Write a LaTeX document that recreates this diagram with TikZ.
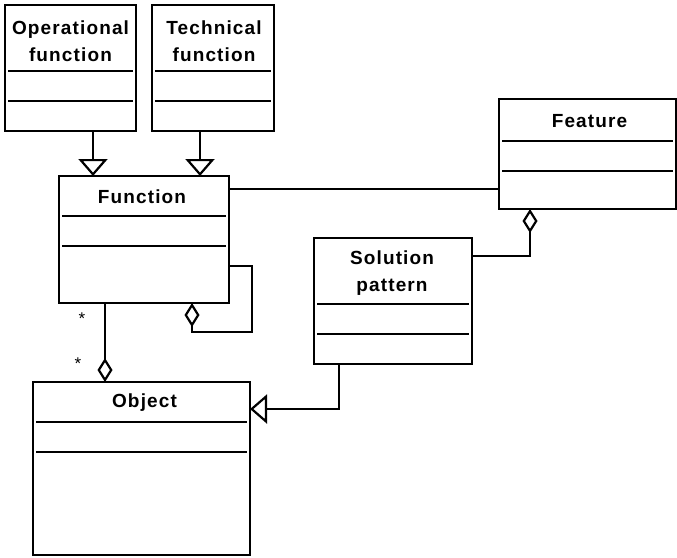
\documentclass[tikz,border=0pt]{standalone}
\usepackage{fontspec}
\setmainfont{Liberation Sans}[LetterSpace=6]
\usetikzlibrary{arrows.meta,calc}
\tikzset{
  umlbox/.style={draw, rectangle, line width=2.6pt, inner sep=0pt, outer sep=0pt, anchor=north west},
  title/.style={font=\fontsize{19}{27}\selectfont\bfseries, align=center, inner sep=0pt},
  sepline/.style={line width=2pt},
  conn/.style={line width=2.4pt},
  inh/.style={conn, -{Triangle[open, length=17pt, width=29pt, line width=2.2pt]}},
  agg/.style={conn, -{Diamond[open, length=24pt, width=15pt, line width=2.2pt]}},
  mult/.style={font=\fontsize{17}{17}\selectfont, inner sep=0pt}
}
\begin{document}
\begin{tikzpicture}[x=1pt, y=-1pt]
\useasboundingbox (0,0) rectangle (677,557);
% boxes
\node[umlbox, minimum width=131pt, minimum height=126pt] (op) at (5,5) {};
\node[umlbox, minimum width=122pt, minimum height=126pt] (te) at (152,5) {};
\node[umlbox, minimum width=170pt, minimum height=127pt] (fn) at (59,176) {};
\node[umlbox, minimum width=177pt, minimum height=110pt] (fe) at (499,99) {};
\node[umlbox, minimum width=158pt, minimum height=126pt] (sp) at (314,238) {};
\node[umlbox, minimum width=217pt, minimum height=173pt] (ob) at (33,382) {};
% compartment lines
\draw[sepline] ($(op.north west)+(3,66)$) -- ($(op.north east)+(-3,66)$);
\draw[sepline] ($(op.north west)+(3,96)$) -- ($(op.north east)+(-3,96)$);
\draw[sepline] ($(te.north west)+(3,66)$) -- ($(te.north east)+(-3,66)$);
\draw[sepline] ($(te.north west)+(3,96)$) -- ($(te.north east)+(-3,96)$);
\draw[sepline] ($(fn.north west)+(3,40)$) -- ($(fn.north east)+(-3,40)$);
\draw[sepline] ($(fn.north west)+(3,70)$) -- ($(fn.north east)+(-3,70)$);
\draw[sepline] ($(fe.north west)+(3,42)$) -- ($(fe.north east)+(-3,42)$);
\draw[sepline] ($(fe.north west)+(3,72)$) -- ($(fe.north east)+(-3,72)$);
\draw[sepline] ($(sp.north west)+(3,66)$) -- ($(sp.north east)+(-3,66)$);
\draw[sepline] ($(sp.north west)+(3,96)$) -- ($(sp.north east)+(-3,96)$);
\draw[sepline] ($(ob.north west)+(3,40)$) -- ($(ob.north east)+(-3,40)$);
\draw[sepline] ($(ob.north west)+(3,70)$) -- ($(ob.north east)+(-3,70)$);
% titles
\node[title] (opt) at ($(op.north)+(0,36)$) {Operational\\function};
\node[title] (tet) at ($(te.north)+(1,36)$) {Technical\\function};
\node[title] (fnt) at ($(fn.north)+(-2,21)$) {Function};
\node[title] (fet) at ($(fe.north)+(2,22)$) {Feature};
\node[title] (spt) at ($(sp.north)+(-1,35)$) {Solution\\pattern};
\node[title] (obt) at ($(ob.north)+(3,21)$) {Object};
% helper coordinates
\coordinate (xa) at (93,0);
\coordinate (xb) at (200,0);
\coordinate (yf) at (0,189);
\coordinate (ya) at (0,256);
\coordinate (xc) at (530,0);
\coordinate (xd) at (339,0);
\coordinate (yo) at (0,409);
\coordinate (xe) at (105,0);
\coordinate (ys) at (0,266);
\coordinate (cs) at (252,332);
\coordinate (xg) at (192,0);
% connectors
\draw[inh] (op.south -| xa) -- (fn.north -| xa);
\draw[inh] (te.south -| xb) -- (fn.north -| xb);
\draw[conn] (fn.east |- yf) -- (fe.west |- yf);
\draw[agg] (sp.east |- ya) -| (fe.south -| xc);
\draw[inh] (sp.south -| xd) |- (ob.east |- yo);
\draw[agg] (fn.south -| xe) -- (ob.north -| xe);
\draw[agg] (fn.east |- ys) -| (cs) -| (fn.south -| xg);
% multiplicities
\node[mult] (m1) at (82,319) {*};
\node[mult] (m2) at (78,364) {*};
\end{tikzpicture}
\end{document}
